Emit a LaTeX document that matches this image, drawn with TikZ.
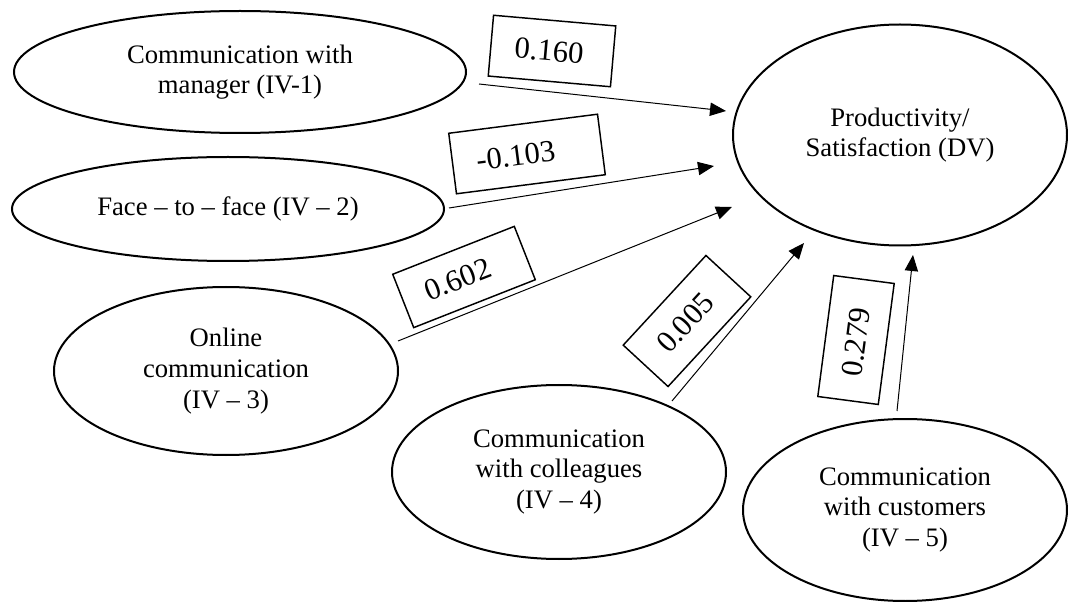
\documentclass[tikz,border=0pt]{standalone}
\usepackage{fontspec}
\setmainfont{Liberation Serif}
\usetikzlibrary{arrows.meta,shapes.geometric}
\begin{document}
\begin{tikzpicture}[x=0.75pt,y=-0.75pt,
  ell/.style={draw, ellipse, line width=1.5pt, inner sep=0pt, align=center, font=\fontsize{20}{23}\selectfont},
  lblbox/.style={draw, line width=1.1pt, inner xsep=18pt, inner ysep=0pt, minimum height=45.75pt, align=left, font=\fontsize{23}{26}\selectfont},
  arr/.style={line width=0.75pt, -{Triangle[length=12pt,width=10pt]}}]
\useasboundingbox (0,0) rectangle (1068,602);
% ellipses
\node[ell, minimum width=339pt, minimum height=91.5pt] (e1) at (240,72) {Communication with\\manager (IV-1)};
\node[ell, minimum width=324pt, minimum height=78pt] (e2) at (228,209) {Face – to – face (IV – 2)};
\node[ell, minimum width=258pt, minimum height=126pt] (e3) at (226,371) {Online\\communication\\(IV – 3)};
\node[ell, minimum width=250.5pt, minimum height=130.5pt] (e4) at (559,472) {Communication\\with colleagues\\(IV – 4)};
\node[ell, minimum width=243pt, minimum height=136.5pt] (e5) at (905,510) {Communication\\with customers\\(IV – 5)};
\node[ell, minimum width=250.5pt, minimum height=165.75pt] (dv) at (900,135) {Productivity/\\Satisfaction (DV)};
% coefficient boxes
\node[lblbox, text width=56pt, rotate=-5] (l1) at (552,51) {0.160};
\node[lblbox, text width=76.5pt, rotate=7.3] (l2) at (527,154) {-0.103};
\node[lblbox, text width=62pt, minimum height=43pt, rotate=21.5] (l3) at (464,277) {0.602};
\node[lblbox, text width=55.5pt, rotate=47.3] (l4) at (687,321) {0.005};
\node[lblbox, text width=55.5pt, rotate=82.5] (l5) at (856,340) {0.279};
% arrows
\draw[arr] ([shift={(12,12)}]e1.east) -- ([shift={(-6,-24)}]dv.west);
\draw[arr] ([shift={(4,-1)}]e2.east) -- ([shift={(-18,31)}]dv.west);
\draw[arr] ([shift={(-1,-30)}]e3.east) -- ([shift={(0,72)}]dv.west);
\draw[arr] ([shift={(113,17)}]e4.north) -- ([shift={(-96,-3.5)}]dv.south);
\draw[arr] ([shift={(-8,-7)}]e5.north) -- ([shift={(13,8.5)}]dv.south);
\end{tikzpicture}
\end{document}
